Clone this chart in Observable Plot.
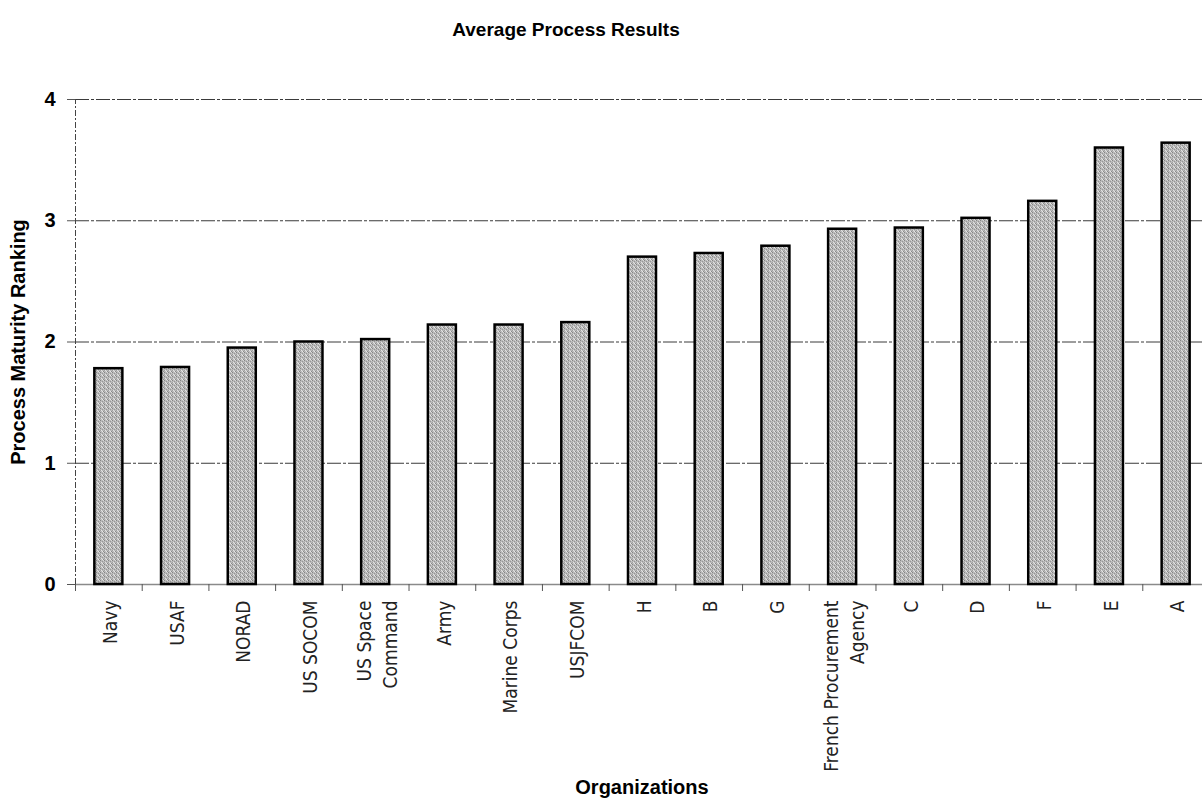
<!DOCTYPE html>
<html>
<head>
<meta charset="utf-8">
<script src="https://cdn.jsdelivr.net/npm/d3@7"></script>
<script src="https://cdn.jsdelivr.net/npm/@observablehq/plot@0.6"></script>
<style>
  html, body { margin: 0; padding: 0; background: #fff; overflow: hidden; }
  body { width: 1202px; height: 802px; font-family: "Liberation Sans", Arial, sans-serif; }
  #title { width: 1132px; height: 60px; line-height: 60px; text-align: center; font-weight: bold; font-size: 19px; color: #000; }
  #xlabel { margin-left: 75px; width: 1134px; height: 30px; line-height: 30px; text-align: center; font-weight: bold; font-size: 20px; color: #000; }
  #chart svg { display: block; overflow: visible; }
</style>
</head>
<body>
<div id="title">Average Process Results</div>
<div id="chart"></div>
<div id="xlabel">Organizations</div>
<script>
const categories = ["Navy", "USAF", "NORAD", "US SOCOM", "US Space Command", "Army", "Marine Corps", "USJFCOM", "H", "B", "G", "French Procurement Agency", "C", "D", "F", "E", "A"];
const values = [1.78, 1.79, 1.95, 2.00, 2.02, 2.14, 2.14, 2.16, 2.70, 2.73, 2.79, 2.93, 2.94, 3.02, 3.16, 3.60, 3.64];
const tickLabels = ["Navy", "USAF", "NORAD", "US SOCOM", "US Space\nCommand", "Army", "Marine Corps", "USJFCOM", "H", "B", "G", "French Procurement\nAgency", "C", "D", "F", "E", "A"];
const yTicks = [0, 1, 2, 3, 4];
const yTitle = "Process Maturity Ranking";

const data = categories.map((c, i) => ({org: c, value: values[i], label: tickLabels[i]}));

const W = 1202, H = 712, ML = 75, MR = -7, MT = 39, MB = 188;
const step = (W - ML - MR) / categories.length;

const chart = Plot.plot({
  width: W,
  height: H,
  marginLeft: ML,
  marginRight: MR,
  marginTop: MT,
  marginBottom: MB,
  style: {fontFamily: "'Liberation Sans', Arial, sans-serif", background: "#fff", overflow: "visible"},
  x: {domain: categories, paddingInner: 0.58, paddingOuter: 0.29, round: false, axis: null},
  y: {domain: [0, 4], axis: null},
  marks: [
    Plot.ruleY(yTicks.filter(t => t > 0), {stroke: "#3a3a3a", strokeWidth: 1, strokeDasharray: "14,2,3,2"}),
    Plot.ruleY([0], {stroke: "#8a8a8a", strokeWidth: 1.5}),
    Plot.ruleX([categories[0]], {dx: -step / 2, y1: 0, y2: 4, stroke: "#444", strokeDasharray: "6,2,2,2"}),
    Plot.axisX({ticks: categories, tickSize: 7, tickFormat: () => "", dx: -step / 2, stroke: "#555", label: null}),
    Plot.barY(data, {x: "org", y: "value", fill: "url(#stipple)", stroke: "#000", strokeWidth: 2.5}),
    Plot.axisY({ticks: yTicks, tickSize: 8, tickPadding: 12, fontSize: 20, fontWeight: "bold", stroke: "#555", label: null, tickFormat: d => String(d)}),
    Plot.text(data, {x: "org", y: 0, text: "label", rotate: -90, textAnchor: "end", lineAnchor: "middle", dy: 16, fontSize: 19, lineHeight: 1.35, fontFamily: "'Liberation Sans Narrow', 'DejaVu Sans Condensed', sans-serif", fill: "#222"}),
    Plot.text([yTitle], {text: d => d, frameAnchor: "left", dx: -57, rotate: -90, textAnchor: "middle", lineAnchor: "middle", fontSize: 20, fontWeight: "bold", fill: "#000"})
  ]
});

// stipple texture for the bars
const svg = d3.select(chart);
const defs = svg.insert("defs", ":first-child");
const pat = defs.append("pattern").attr("id", "stipple").attr("patternUnits", "userSpaceOnUse").attr("width", 4).attr("height", 4);
pat.append("rect").attr("width", 4).attr("height", 4).attr("fill", "#bababa");
[[0,0,"#858585"],[2,1,"#969696"],[1,2,"#e2e2e2"],[3,3,"#8a8a8a"],[2,3,"#e8e8e8"],[0,2,"#a0a0a0"],[3,0,"#d8d8d8"]].forEach(([x, y, c]) =>
  pat.append("rect").attr("x", x).attr("y", y).attr("width", 1).attr("height", 1).attr("fill", c));

document.getElementById("chart").appendChild(chart);
</script>
</body>
</html>
